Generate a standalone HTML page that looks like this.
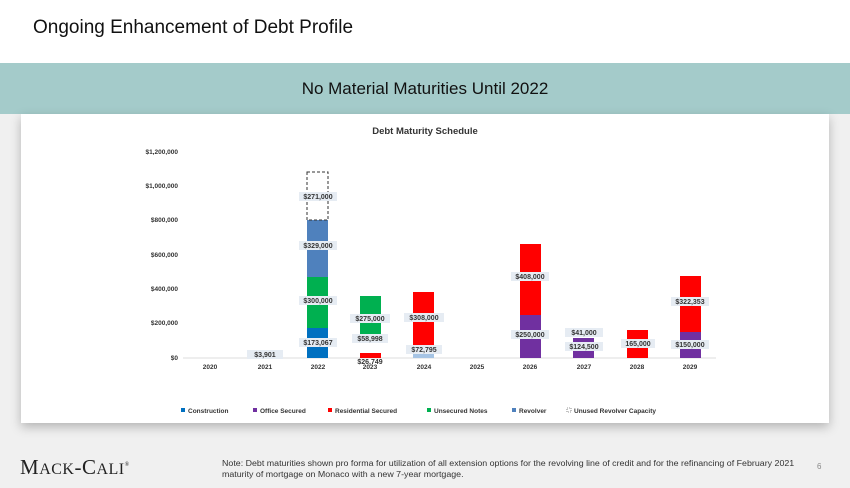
<!DOCTYPE html>
<html><head><meta charset="utf-8"><style>
body{margin:0;width:850px;height:488px;overflow:hidden;background:#f0f0f0;font-family:"Liberation Sans",sans-serif;position:relative}
.top{position:absolute;left:0;top:0;width:850px;height:63px;background:#fff}
.t{position:absolute;left:33px;top:17px;font-size:19px;color:#111}
.band{position:absolute;left:0;top:63px;width:850px;height:51px;background:#a4cbca;text-align:center;line-height:51px;font-size:17px;color:#111}
.box{position:absolute;left:21px;top:114px;width:808px;height:309px;background:#fff;box-shadow:0 4px 10px rgba(0,0,0,.25)}
.logo{position:absolute;left:20px;top:455px;font-family:"Liberation Serif",serif;font-size:21px;color:#222;letter-spacing:0.5px}
.note{position:absolute;left:222px;top:458px;font-size:8.6px;color:#333;line-height:11px;width:800px;white-space:nowrap;transform:scaleX(1.03);transform-origin:0 0}
.pg{position:absolute;left:817px;top:462px;font-size:8px;color:#888}
</style></head><body>
<div class="top"><div class="t">Ongoing Enhancement of Debt Profile</div></div>
<div class="band">No Material Maturities Until 2022</div>
<div class="box"></div>
<svg width="850" height="488" style="position:absolute;left:0;top:0" font-family="Liberation Sans, sans-serif">
<text x="425" y="134" font-size="9.5" font-weight="bold" text-anchor="middle" fill="#333">Debt Maturity Schedule</text>
<g font-size="6.5" font-weight="bold" fill="#333" text-anchor="end">
<text x="178" y="154">$1,200,000</text><text x="178" y="188">$1,000,000</text><text x="178" y="222">$800,000</text><text x="178" y="257">$600,000</text><text x="178" y="291">$400,000</text><text x="178" y="325">$200,000</text><text x="178" y="360">$0</text></g>
<line x1="183" y1="358" x2="716" y2="358" stroke="#ddd"/>
<g font-size="6.5" font-weight="bold" fill="#333" text-anchor="middle">
<text x="210" y="369">2020</text><text x="265" y="369">2021</text><text x="318" y="369">2022</text><text x="370" y="369">2023</text><text x="424" y="369">2024</text><text x="477" y="369">2025</text><text x="530" y="369">2026</text><text x="584" y="369">2027</text><text x="637" y="369">2028</text><text x="690" y="369">2029</text></g>
<rect x="307" y="328" width="21" height="30" fill="#0070c0"/>
<rect x="307" y="277" width="21" height="51" fill="#00b050"/>
<rect x="307" y="220" width="21" height="57" fill="#4f81bd"/>
<rect x="307" y="172" width="21" height="48" fill="none" stroke="#333" stroke-dasharray="3,2"/>
<rect x="360" y="353" width="21" height="5" fill="#f00"/>
<rect x="360" y="296" width="21" height="47" fill="#00b050"/>
<rect x="413" y="346" width="21" height="12" fill="#a6c4e4"/>
<rect x="413" y="292" width="21" height="54" fill="#f00"/>
<rect x="520" y="315" width="21" height="43" fill="#7030a0"/>
<rect x="520" y="244" width="21" height="71" fill="#f00"/>
<rect x="573" y="338" width="21" height="20" fill="#7030a0"/>
<rect x="627" y="330" width="21" height="28" fill="#f00"/>
<rect x="680" y="332" width="21" height="26" fill="#7030a0"/>
<rect x="680" y="276" width="21" height="56" fill="#f00"/>
<g font-size="7" font-weight="bold" fill="#333" text-anchor="middle">
<g fill="#e6ecf3"><rect x="299" y="192" width="38" height="9"/><rect x="299" y="241" width="38" height="9"/><rect x="299" y="296" width="38" height="9"/><rect x="299" y="338" width="38" height="9"/><rect x="350" y="314" width="40" height="9"/><rect x="352" y="334" width="36" height="9"/><rect x="404" y="313" width="40" height="9"/><rect x="406" y="345" width="36" height="9"/><rect x="511" y="272" width="38" height="9"/><rect x="511" y="330" width="38" height="9"/><rect x="565" y="328" width="38" height="9"/><rect x="565" y="342" width="38" height="9"/><rect x="621" y="339" width="34" height="9"/><rect x="671" y="297" width="38" height="9"/><rect x="671" y="340" width="38" height="9"/><rect x="247" y="350" width="36" height="9"/></g>
<text x="318" y="199">$271,000</text><text x="318" y="248">$329,000</text><text x="318" y="303">$300,000</text><text x="318" y="345">$173,067</text>
<text x="370" y="321">$275,000</text><text x="370" y="341">$58,998</text><text x="370" y="364">$26,749</text>
<text x="424" y="320">$308,000</text><text x="424" y="352">$72,795</text>
<text x="530" y="279">$408,000</text><text x="530" y="337">$250,000</text>
<text x="584" y="335">$41,000</text><text x="584" y="349">$124,500</text>
<text x="638" y="346">165,000</text>
<text x="690" y="304">$322,353</text><text x="690" y="347">$150,000</text>
<text x="265" y="357">$3,901</text></g>
<g font-size="6.5" font-weight="bold" fill="#333">
<rect x="181" y="408" width="4" height="4" fill="#0070c0"/><text x="188" y="413">Construction</text>
<rect x="253" y="408" width="4" height="4" fill="#7030a0"/><text x="260" y="413">Office Secured</text>
<rect x="328" y="408" width="4" height="4" fill="#f00"/><text x="335" y="413">Residential Secured</text>
<rect x="427" y="408" width="4" height="4" fill="#00b050"/><text x="434" y="413">Unsecured Notes</text>
<rect x="512" y="408" width="4" height="4" fill="#4f81bd"/><text x="519" y="413">Revolver</text>
<rect x="567" y="408" width="4" height="4" fill="none" stroke="#333" stroke-width="0.6" stroke-dasharray="1,1"/><text x="574" y="413">Unused Revolver Capacity</text>
</g>
</svg>
<div class="logo">M<span style="font-size:16px">ACK</span>-C<span style="font-size:16px">ALI</span><sup style="font-size:6px">®</sup></div>
<div class="note">Note: Debt maturities shown pro forma for utilization of all extension options for the revolving line of credit and for the refinancing of February 2021<br>maturity of mortgage on Monaco with a new 7-year mortgage.</div>
<div class="pg">6</div>
</body></html>
